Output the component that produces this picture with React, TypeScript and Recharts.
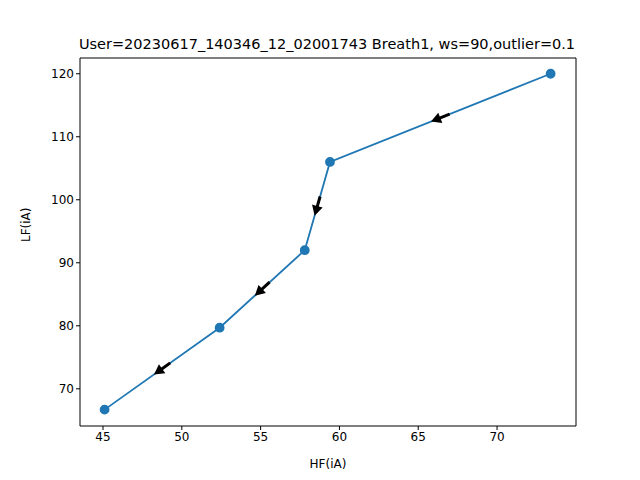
import React from 'react';
import { ComposedChart, Line, Scatter, XAxis, YAxis, Label } from 'recharts';

const hf = [45.1, 52.4, 57.8, 59.4, 73.4];
const lf = [66.7, 79.7, 92.0, 106.0, 120.0];
const xTicks = [45, 50, 55, 60, 65, 70];
const yTicks = [70, 80, 90, 100, 110, 120];

const X_DOMAIN = [43.54, 75.01];
const Y_DOMAIN = [64.1, 122.5];
const W = 640, H = 480;
const M = { top: 58, right: 64, bottom: 54, left: 80 };
const pxX = (W - M.left - M.right) / (X_DOMAIN[1] - X_DOMAIN[0]);
const pxY = (H - M.top - M.bottom) / (Y_DOMAIN[1] - Y_DOMAIN[0]);

const points = hf.map((x, i) => ({ x, y: lf[i] }));
// arrows at segment midpoints pointing back toward the lower point
const arrows = points.slice(1).map((p, i) => {
  const q = points[i];
  return { x: (p.x + q.x) / 2, y: (p.y + q.y) / 2, dx: q.x - p.x, dy: q.y - p.y };
});

const Arrow = (props: any) => {
  const { cx, cy, payload } = props;
  const ang = Math.atan2(-payload.dy * pxY, payload.dx * pxX) * 180 / Math.PI;
  return (
    <g transform={`translate(${cx},${cy}) rotate(${ang})`}>
      <polygon points="-10,-1.5 0,-1.5 0,-5.5 10,0 0,5.5 0,1.5 -10,1.5" fill="#000" />
    </g>
  );
};

const font = 'DejaVu Sans, sans-serif';

export default function App() {
  return (
    <div style={{ position: 'absolute', left: 0, top: 0, background: '#fff' }}>
      <ComposedChart width={W} height={H} data={points} margin={{ top: M.top, right: M.right, bottom: 0, left: 0 }}>
        <text x={327} y={49} textAnchor="middle" fontFamily={font} fontSize={14.5} fill="#000">
          User=20230617_140346_12_02001743 Breath1, ws=90,outlier=0.1
        </text>
        <XAxis type="number" dataKey="x" height={M.bottom} domain={X_DOMAIN} ticks={xTicks} allowDataOverflow
          stroke="#000" tick={{ fill: '#000', fontSize: 12, fontFamily: font }} tickSize={4}>
          <Label value="HF(iA)" position="insideBottom" offset={12} fill="#000" fontSize={12} fontFamily={font} />
        </XAxis>
        <YAxis type="number" dataKey="y" width={M.left} domain={Y_DOMAIN} ticks={yTicks} allowDataOverflow
          stroke="#000" tick={{ fill: '#000', fontSize: 12, fontFamily: font }} tickSize={4}>
          <Label value="LF(iA)" angle={-90} position="insideLeft" offset={26} fill="#000" fontSize={12} fontFamily={font} />
        </YAxis>
        <line x1={M.left} y1={M.top} x2={W - M.right} y2={M.top} stroke="#000" />
        <line x1={W - M.right} y1={M.top} x2={W - M.right} y2={H - M.bottom} stroke="#000" />
        <Line type="linear" dataKey="y" stroke="#1f77b4" strokeWidth={1.8} isAnimationActive={false}
          dot={{ r: 4, fill: '#1f77b4', stroke: '#1f77b4' }} activeDot={false} />
        <Scatter data={arrows} dataKey="y" shape={Arrow} isAnimationActive={false} />
      </ComposedChart>
    </div>
  );
}
